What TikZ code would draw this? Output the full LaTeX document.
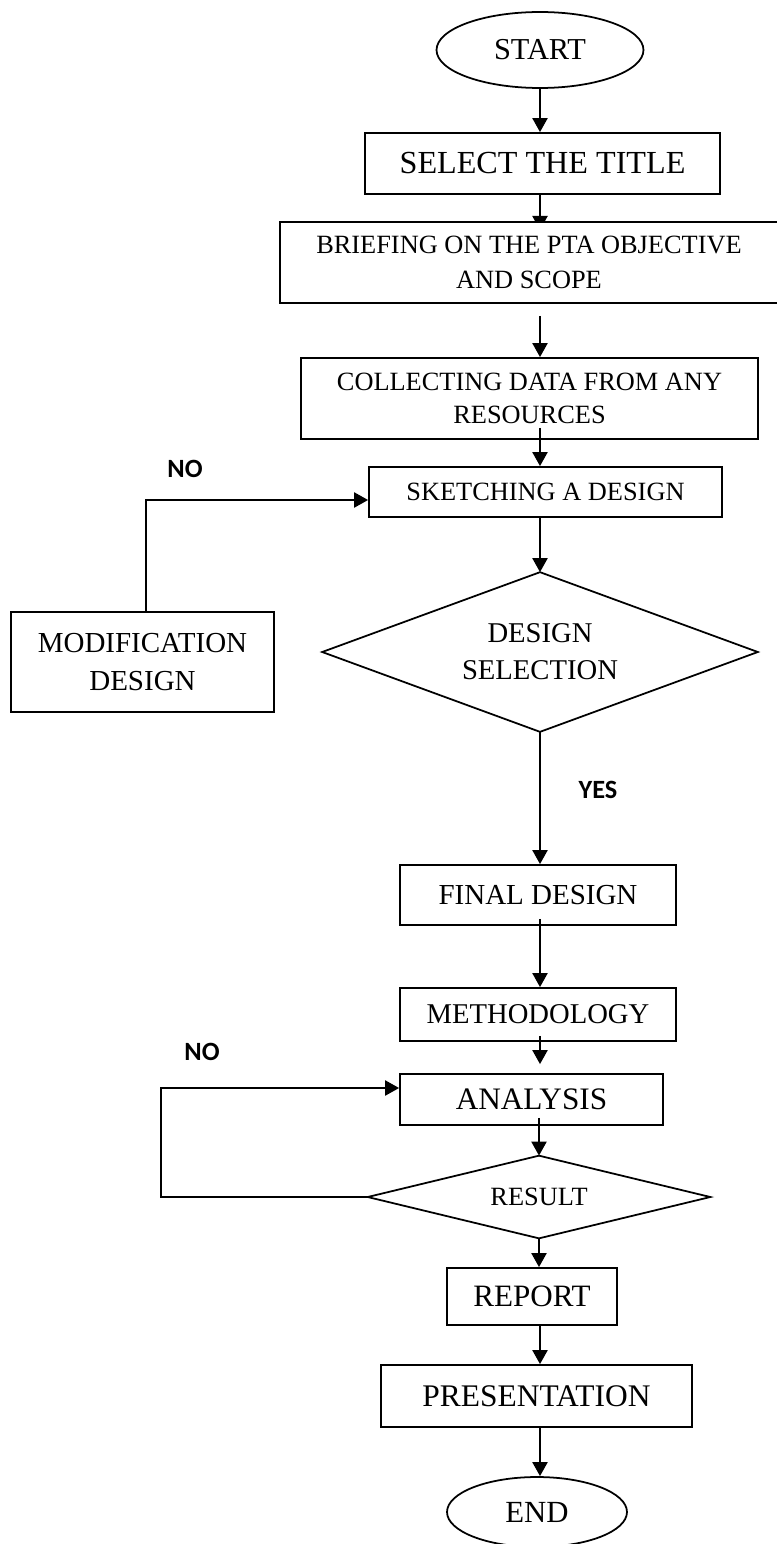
\documentclass[tikz,border=0pt]{standalone}
\usepackage{fontspec}
\setmainfont{Liberation Serif}
\newfontfamily\lblfont{Carlito}
\usetikzlibrary{arrows.meta,shapes.geometric,calc}
\tikzset{
  box/.style={draw, line width=1pt, rectangle, inner sep=0pt, align=center},
  term/.style={draw, line width=1pt, ellipse, inner sep=0pt, align=center},
  dec/.style={rectangle, inner sep=0pt, align=center},
  decline/.style={line width=1pt, line join=miter},
  arr/.style={line width=1.4pt, -{Triangle[length=8pt,width=8.5pt]}},
  lbl/.style={font=\lblfont\bfseries\fontsize{15}{18}\selectfont, inner sep=0pt}
}
\begin{document}
\begin{tikzpicture}[x=0.02cm,y=-0.02cm]
\useasboundingbox (0,0) rectangle (777,1544);
\coordinate (sp) at (540,0);
\coordinate (rl) at (161,0);
\coordinate (btip) at (540,230);

\node[term, minimum width=4.14cm, minimum height=1.52cm, font=\fontsize{17.3}{20}\selectfont] (start) at (540,50) {START};
\node[box, minimum width=7.1cm, minimum height=1.22cm, font=\fontsize{18.3}{22}\selectfont] (select) at (542.5,163.5) {SELECT THE TITLE};
\draw[arr] (sp |- select.south) -- (btip);
\node[box, fill=white, minimum width=9.96cm, minimum height=1.62cm, font=\fontsize{15}{19.8}\selectfont] (brief) at (529,262.5) {BRIEFING ON THE PTA OBJECTIVE\\AND SCOPE};
\node[box, minimum width=9.14cm, minimum height=1.62cm, font=\fontsize{15}{18.7}\selectfont] (collect) at (529.5,398.5) {COLLECTING DATA FROM ANY\\RESOURCES};
\node[box, minimum width=7.06cm, minimum height=1.0cm, font=\fontsize{15}{18}\selectfont] (sketch) at (545.5,492) {SKETCHING A DESIGN};
\node[box, minimum width=5.26cm, minimum height=2.0cm, font=\fontsize{16.5}{22}\selectfont] (modif) at (142.5,662) {MODIFICATION\\DESIGN};
\node[dec, minimum width=8.7cm, minimum height=3.18cm, font=\fontsize{16.3}{21}\selectfont] (dsel) at (540,652) {DESIGN\\SELECTION};
\draw[decline] (dsel.north) -- (dsel.east) -- (dsel.south) -- (dsel.west) -- cycle;
\node[box, minimum width=5.52cm, minimum height=1.2cm, font=\fontsize{16.5}{20}\selectfont] (final) at (538,895) {FINAL DESIGN};
\node[box, minimum width=5.52cm, minimum height=1.06cm, font=\fontsize{16.3}{20}\selectfont] (method) at (538,1014.5) {METHODOLOGY};
\node[box, minimum width=5.26cm, minimum height=1.02cm, font=\fontsize{17.8}{21}\selectfont] (analysis) at (531.5,1099.5) {ANALYSIS};
\node[dec, minimum width=6.84cm, minimum height=1.64cm, font=\fontsize{15}{18}\selectfont] (result) at (539,1197) {RESULT};
\draw[decline] (result.north) -- (result.east) -- (result.south) -- (result.west) -- cycle;
\node[box, minimum width=3.4cm, minimum height=1.14cm, font=\fontsize{17.7}{21}\selectfont] (report) at (532,1296.5) {REPORT};
\node[box, minimum width=6.22cm, minimum height=1.24cm, font=\fontsize{17.9}{21}\selectfont] (present) at (536.5,1396) {PRESENTATION};
\node[term, minimum width=3.6cm, minimum height=1.4cm, font=\fontsize{17.5}{20}\selectfont] (end) at (537,1512) {END};

\node[lbl] (no1) at (185,469) {NO};
\node[lbl] (no2) at (202,1052) {NO};
\node[lbl] (yes) at (598,790) {YES};

\draw[arr] (sp |- start.south) -- (sp |- select.north);
\draw[arr, shorten <=0.24cm] (sp |- brief.south) -- (sp |- collect.north);
\draw[arr, shorten <=-0.24cm] (sp |- collect.south) -- (sp |- sketch.north);
\draw[arr] (sp |- sketch.south) -- (dsel.north);
\draw[arr] (dsel.south) -- (sp |- final.north);
\draw[arr, shorten <=-0.14cm] (sp |- final.south) -- (sp |- method.north);
\draw[arr, shorten <=-0.12cm, shorten >=0.18cm] (sp |- method.south) -- (sp |- analysis.north);
\draw[arr, shorten <=-0.16cm] (result.north |- analysis.south) -- (result.north);
\draw[arr] (result.south) -- (result.south |- report.north);
\draw[arr] (sp |- report.south) -- (sp |- present.north);
\draw[arr] (sp |- present.south) -- (sp |- end.north);

\draw[arr] ([xshift=0.07cm]modif.north) |- ([yshift=-0.16cm]sketch.west);
\draw[arr] (result.west) -- (rl |- result.west) |- ([yshift=0.23cm]analysis.west);
\end{tikzpicture}
\end{document}
